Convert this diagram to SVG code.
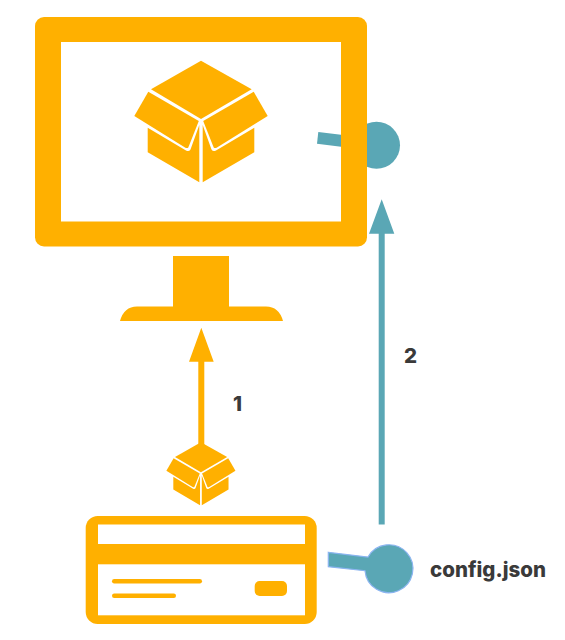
<svg xmlns="http://www.w3.org/2000/svg" width="565" height="640" viewBox="0 0 565 640">
  <style>
    .o { fill: #FFB000; }
    .t { fill: #5AA7B5; }
    .w { fill: #FFFFFF; }
    .l { font-family: "Inter", "Liberation Sans", sans-serif; font-weight: 800; font-size: 20.500px; fill: #3A3A3A; }
  </style>
  <defs>
    <g id="box">
      <path class="o" d="M201 60.700L251.700 89.300L201 119L151 89.300Z"/>
      <path class="o" d="M148.300 91.700L198.800 121L188.300 147.500Q187 148.500 185 147.500L134.300 116Z"/>
      <path class="o" d="M253.700 91.700L203.200 121L213.700 147.500Q215 148.500 217 147.500L267.700 116Z"/>
      <path class="o" d="M147.700 127.700L186 150.500Q189 152 190.500 149.500L199.300 125V182.300L147.700 152.300Z"/>
      <path class="o" d="M254.300 127.700L216 150.500Q213 152 211.500 149.500L202.700 125V182.300L254.300 152.300Z"/>
    </g>
  </defs>
  <g id="connectors">
    <path class="o" d="M198.300 361.700V445H204.300V361.700H213.700L201.300 327.700L189 361.700Z"/>
    <path class="t" d="M378.700 233.700V524.500H384.700V233.700H394.300L381.700 199.300L369 233.700Z"/>
  </g>
  <g id="interface-top">
    <circle class="t" cx="376.500" cy="145.300" r="23.500"/>
  </g>
  <g id="monitor">
    <rect class="o" x="35" y="17" width="332" height="229.500" rx="9"/>
    <rect class="w" x="61" y="42" width="280" height="179.500"/>
    <path class="o" d="M173 256H229V306.500H266Q279 306.500 283 321H120Q124 306.500 137 306.500H173Z"/>
    <use href="#box"/>
    <path class="t" d="M318.300 132L341 134.700V146.700L317 143.700Z"/>
  </g>
  <g id="small-box">
    <use href="#box" transform="translate(96.800 410.700) scale(0.518)"/>
  </g>
  <g id="card">
    <rect class="o" x="85.700" y="516" width="231" height="108" rx="12"/>
    <rect class="w" x="98" y="524.500" width="207" height="19.500"/>
    <rect class="w" x="98" y="564.300" width="207" height="51"/>
    <rect class="o" x="112" y="579" width="90" height="4.500" rx="2.200"/>
    <rect class="o" x="112" y="593.500" width="64" height="4.500" rx="2.200"/>
    <rect class="o" x="254.700" y="581" width="32.300" height="15" rx="5"/>
  </g>
  <g id="config-json">
    <path class="t" stroke="#8AB4F0" stroke-width="1.200" d="M328.300 552.300L368 557A24 24 0 1 1 365 570.700L328.300 566.700Z"/>
    <text class="l" x="430" y="576.500">config.json</text>
  </g>
  <g id="labels">
    <text class="l" x="233" y="410.500">1</text>
    <text class="l" x="404" y="362.500">2</text>
  </g>
</svg>
